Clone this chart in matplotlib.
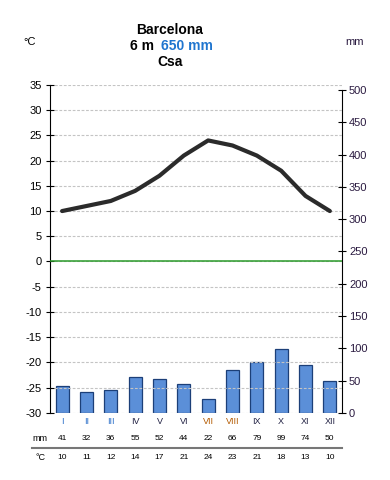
import matplotlib
matplotlib.use("Agg")
import matplotlib.pyplot as plt

plt.rcParams['font.family'] = ['Liberation Sans', 'DejaVu Sans']
plt.rcParams['axes.unicode_minus'] = False

months = ["I", "II", "III", "IV", "V", "VI", "VII", "VIII", "IX", "X", "XI", "XII"]
month_colors = ["#2a6fc9", "#2a6fc9", "#2a6fc9", "#222244", "#222244", "#222244",
                "#b35a00", "#b35a00", "#222244", "#222244", "#222244", "#222244"]
precip = [41, 32, 36, 55, 52, 44, 22, 66, 79, 99, 74, 50]
temp = [10, 11, 12, 14, 17, 21, 24, 23, 21, 18, 13, 10]

fig = plt.figure(figsize=(3.9, 4.8), dpi=100)
ax = fig.add_axes([0.128, 0.140, 0.749, 0.683])
ax2 = ax.twinx()

x = list(range(len(months)))

# precipitation bars on the right axis
ax2.bar(x, precip, width=0.54, color="#5b8fd8", edgecolor="#1c3f78", linewidth=0.9, zorder=2)
ax2.set_ylim(0, 508)
ax2.set_yticks(range(0, 501, 50))
ax2.tick_params(axis='y', labelsize=8, direction='inout', length=6, colors='black',
                labelcolor='#2a1a40', pad=2)

# temperature on the left axis
ax.set_ylim(-30, 35)
ax.set_xlim(-0.5, 11.5)
ax.set_yticks(range(-30, 36, 5))
ax.tick_params(axis='y', labelsize=8, direction='inout', length=6, pad=3)
ax.set_xticks(x)
ax.set_xticklabels(months, fontsize=6.5)
ax.tick_params(axis='x', length=0, pad=3)
for lbl, c in zip(ax.get_xticklabels(), month_colors):
    lbl.set_color(c)
ax.grid(axis='y', color='#c4c4c4', linestyle=(0, (2.5, 1.5)), linewidth=0.8)
ax.axhline(0, color='#2a9a2a', linewidth=1.1, zorder=3)

for s in ['top', 'bottom']:
    ax.spines[s].set_visible(False)
    ax2.spines[s].set_visible(False)
ax.spines['right'].set_visible(False)
ax2.spines['left'].set_visible(False)
ax2.spines['right'].set_bounds(0, 500)

# draw temperature above the bars
ax.set_zorder(ax2.get_zorder() + 1)
ax.patch.set_visible(False)
ax.plot(x, temp, color="#2b2b2b", linewidth=3, solid_capstyle='round', zorder=4)

# value table below the chart
for i in x:
    ax.text(i, -35.0, str(precip[i]), ha='center', va='center', fontsize=6)
    ax.text(i, -38.9, str(temp[i]), ha='center', va='center', fontsize=6)
ax.text(-0.9, -35.0, "mm", ha='center', va='center', fontsize=6.5)
ax.text(-0.9, -38.9, "°C", ha='center', va='center', fontsize=6.5)
ax.plot([-1.24, 11.5], [-37.0, -37.0], color='#777777', linewidth=1.5, clip_on=False)

# titles
fig.text(0.435, 0.938, "Barcelona", ha='center', va='center', fontsize=10, fontweight='bold')
fig.text(0.395, 0.904, "6 m", ha='right', va='center', fontsize=10, fontweight='bold')
fig.text(0.413, 0.904, "650 mm", ha='left', va='center', fontsize=10, fontweight='bold',
         color='#1f75cf')
fig.text(0.435, 0.871, "Csa", ha='center', va='center', fontsize=10, fontweight='bold')
fig.text(0.077, 0.913, "°C", ha='center', va='center', fontsize=8)
fig.text(0.91, 0.913, "mm", ha='center', va='center', fontsize=8, color='#2a1a40')

fig.savefig("out.png", dpi=100)
